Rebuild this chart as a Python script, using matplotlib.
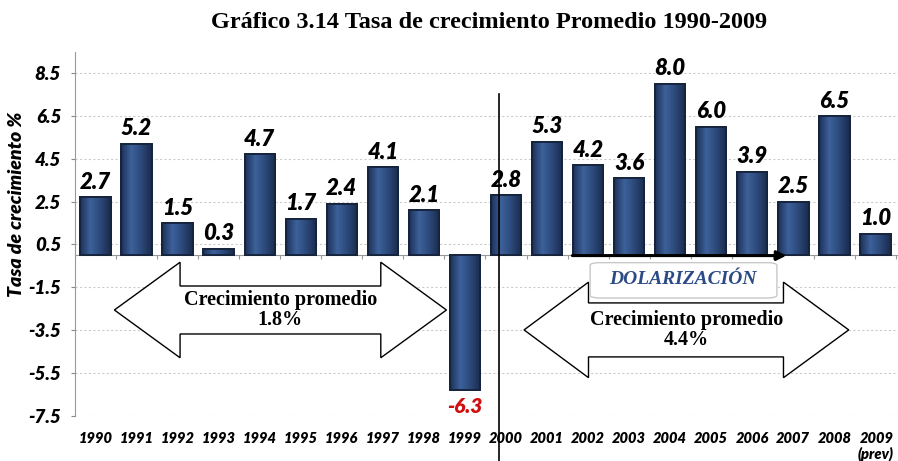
import matplotlib.pyplot as plt
import numpy as np
from matplotlib.colors import LinearSegmentedColormap
from matplotlib.patches import Polygon, FancyBboxPatch

YEARS = ["1990", "1991", "1992", "1993", "1994", "1995", "1996", "1997", "1998", "1999",
         "2000", "2001", "2002", "2003", "2004", "2005", "2006", "2007", "2008", "2009\n(prev)"]
GROWTH = [2.7, 5.2, 1.5, 0.3, 4.7, 1.7, 2.4, 4.1, 2.1, -6.3,
          2.8, 5.3, 4.2, 3.6, 8.0, 6.0, 3.9, 2.5, 6.5, 1.0]
Y_TICKS = [8.5, 6.5, 4.5, 2.5, 0.5, -1.5, -3.5, -5.5, -7.5]

SANS = ["Lato", "DejaVu Sans"]
SERIF = ["Liberation Serif", "DejaVu Serif"]


def double_arrow(ax, x0, x1, xh0, xh1, yc, shaft, head):
    # outline of a two-headed block arrow, in data coordinates
    pts = [(x0, yc), (xh0, yc + head), (xh0, yc + shaft), (xh1, yc + shaft),
           (xh1, yc + head), (x1, yc), (xh1, yc - head), (xh1, yc - shaft),
           (xh0, yc - shaft), (xh0, yc - head)]
    ax.add_patch(Polygon(pts, closed=True, facecolor="white", edgecolor="black",
                         linewidth=1.0, zorder=4))


fig = plt.figure(figsize=(8.98, 4.61), dpi=100)
ax = fig.add_axes([0.0835, 0.098, 0.9165, 0.79])

x = list(range(len(GROWTH)))
bars = ax.bar(x, GROWTH, width=0.74, color="#2d4c82", edgecolor="#15233b", linewidth=1.3, zorder=3)

# horizontal shading inside each bar
shade = LinearSegmentedColormap.from_list("shade", ["#1d3158", "#3d619b", "#2b4879", "#1a2b4c"])
grad = np.linspace(0, 1, 64).reshape(1, -1)
for b in bars:
    x0, y0 = b.get_x(), b.get_y()
    w, h = b.get_width(), b.get_height()
    im = ax.imshow(grad, cmap=shade, aspect="auto", extent=(x0, x0 + w, y0, y0 + h),
                   zorder=3.1, interpolation="bilinear")
    im.set_clip_path(b)
    ax.bar(b.get_x() + w / 2, h, bottom=y0, width=w, facecolor="none", edgecolor="#15233b",
           linewidth=1.3, zorder=3.2)

for xi, v in zip(x, GROWTH):
    if v >= 0:
        ax.text(xi, v + 0.2, f"{v:.1f}", ha="center", va="bottom", fontsize=16,
                fontweight="heavy", style="italic", family=SANS, zorder=5)
    else:
        ax.text(xi, v - 0.3, f"{v:.1f}", ha="center", va="top", fontsize=15,
                fontweight="heavy", style="italic", family=SANS, color="#d01010", zorder=5)

ax.set_xlim(-0.5, 19.55)
ax.set_ylim(-7.5, 9.5)
ax.set_xticks(x)
ax.set_yticks(Y_TICKS)
ax.tick_params(axis="x", length=0, pad=12)
ax.tick_params(axis="y", length=3, color="#888888", pad=7)
ax.set_yticklabels([f"{t:.1f}" for t in Y_TICKS])
ax.set_xticklabels(YEARS, multialignment="right", linespacing=1.1)
for lbl in ax.get_yticklabels():
    lbl.set_fontsize(13.5)
    lbl.set_fontweight("heavy")
    lbl.set_fontstyle("italic")
    lbl.set_family(SANS)
for lbl in ax.get_xticklabels():
    lbl.set_fontsize(10.5)
    lbl.set_fontweight("heavy")
    lbl.set_fontstyle("italic")
    lbl.set_family(SANS)
ax.set_ylabel("Tasa de crecimiento %", fontsize=14, fontweight="heavy", style="italic",
              family=SANS, labelpad=0)
ax.yaxis.set_label_coords(-0.061, 0.58)

ax.grid(axis="y", linestyle=(0, (2, 2)), color="#cccccc", linewidth=0.8, zorder=0)
for s in ["top", "right", "bottom"]:
    ax.spines[s].set_visible(False)
ax.spines["left"].set_color("#999999")
ax.axhline(0, color="#999999", linewidth=0.8, zorder=2)
ax.vlines([i + 0.5 for i in range(-1, 20)], -0.2, 0, color="#999999", linewidth=0.8, zorder=2)

# dollarisation separator and arrow
ax.plot([9.83, 9.83], [7.5, -9.6], color="black", linewidth=1.2, clip_on=False, zorder=6)
ax.annotate("", xy=(16.9, -0.02), xytext=(11.55, -0.02),
            arrowprops=dict(arrowstyle="-|>", color="black", lw=2.2, mutation_scale=14),
            zorder=6)

double_arrow(ax, 0.46, 8.55, 2.06, 6.95, -2.56, 1.12, 2.23)
double_arrow(ax, 10.44, 18.35, 12.01, 16.76, -3.49, 1.26, 2.23)

ax.text(4.5, -2.56, "Crecimiento promedio\n1.8%", ha="center", va="center", fontsize=14.5,
        fontweight="bold", family=SERIF, zorder=7, linespacing=1.0)
ax.text(14.4, -3.49, "Crecimiento promedio\n4.4%", ha="center", va="center", fontsize=14.5,
        fontweight="bold", family=SERIF, zorder=7, linespacing=1.0)

ax.add_patch(FancyBboxPatch((12.05, -2.0), 4.55, 1.65, boxstyle="round,pad=0,rounding_size=0.25",
                            facecolor="white", edgecolor="#c8c8c8", linewidth=1.0, zorder=6,
                            mutation_aspect=0.5))
ax.text(14.32, -1.12, "DOLARIZACIÓN", ha="center", va="center", fontsize=14,
        fontweight="bold", style="italic", family=SERIF, color="#2c4a86", zorder=7)

fig.text(0.545, 0.952, "Gráfico 3.14 Tasa de crecimiento Promedio 1990-2009", ha="center",
         va="center", fontsize=17.5, fontweight="bold", family=SERIF)

plt.savefig("out.png", dpi=100)
